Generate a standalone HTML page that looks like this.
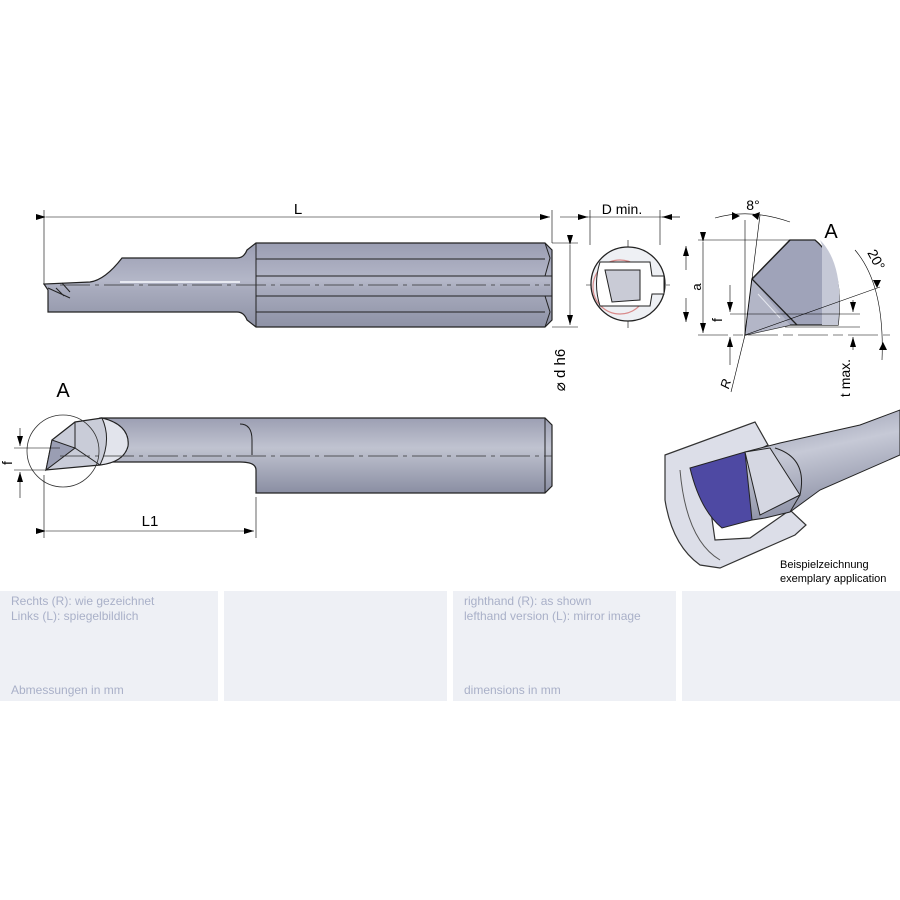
<!DOCTYPE html>
<html><head><meta charset="utf-8"><style>
html,body{margin:0;padding:0;background:#fff;}
svg{display:block;font-family:"Liberation Sans",sans-serif;}
</style></head><body>
<svg width="900" height="900" viewBox="0 0 900 900" xmlns="http://www.w3.org/2000/svg">
<defs>
<linearGradient id="g1" x1="0" y1="0" x2="0" y2="1">
<stop offset="0" stop-color="#9a9db2"/><stop offset="0.45" stop-color="#b4b7c8"/><stop offset="0.55" stop-color="#a8abbd"/><stop offset="1" stop-color="#8e92a6"/></linearGradient>
<linearGradient id="g2" x1="0" y1="0" x2="0" y2="1">
<stop offset="0" stop-color="#9c9fb3"/><stop offset="0.4" stop-color="#c0c3d0"/><stop offset="1" stop-color="#8a8ea3"/></linearGradient>
<linearGradient id="g3" x1="0" y1="0" x2="0.3" y2="1">
<stop offset="0" stop-color="#8f93a8"/><stop offset="0.45" stop-color="#c6c9d6"/><stop offset="1" stop-color="#8a8ea3"/></linearGradient>
<marker id="ar" markerWidth="10" markerHeight="6" refX="10" refY="3" orient="auto" markerUnits="userSpaceOnUse"><path d="M0,0 L10,3 L0,6z" fill="#000"/></marker>
</defs>

<!-- Top tool -->
<g stroke="#000" stroke-width="0.6" fill="none">
<line x1="44" y1="210" x2="44" y2="285"/><line x1="552" y1="210" x2="552" y2="243"/>
<line x1="46" y1="217" x2="550" y2="217" marker-start="url(#ar)" marker-end="url(#ar)"/>
<line x1="552" y1="243" x2="578" y2="243"/><line x1="552" y1="327" x2="578" y2="327"/>
<line x1="570" y1="245" x2="570" y2="325" marker-start="url(#ar)" marker-end="url(#ar)"/>
</g>
<text x="298" y="214" font-size="15" text-anchor="middle">L</text>
<path d="M48,312 L48,290 L44,284 L90,282 Q105,280 122,258 L237,258 Q244,258 247,250 L256,243 L545,243 L552,250 L552,320 L545,327 L256,327 L247,320 Q244,312 237,312 Z" fill="url(#g1)" stroke="#222" stroke-width="1.2"/>
<g stroke="#222" stroke-width="1" fill="none">
<line x1="256" y1="243" x2="256" y2="327"/>
<line x1="256" y1="259" x2="545" y2="259"/><line x1="256" y1="276" x2="552" y2="276"/>
<line x1="256" y1="296" x2="552" y2="296"/><line x1="256" y1="312" x2="545" y2="312"/>
<path d="M545,243 L550,258 L545,276 M545,296 L550,312 L545,327"/>
<path d="M48,288 L70,298 M56,288 L64,296 M62,283 L70,292"/>
</g>
<line x1="60" y1="285" x2="550" y2="285" stroke="#333" stroke-width="0.8" stroke-dasharray="30,5,4,5"/>
<line x1="120" y1="282" x2="240" y2="282" stroke="#e8eaf2" stroke-width="2"/>

<!-- End view -->
<g stroke="#000" stroke-width="0.6" fill="none">
<line x1="590" y1="210" x2="590" y2="245"/><line x1="660" y1="210" x2="660" y2="245"/>
<line x1="560" y1="217" x2="588" y2="217" marker-end="url(#ar)"/>
<line x1="680" y1="217" x2="662" y2="217" marker-end="url(#ar)"/>
<line x1="580" y1="217" x2="680" y2="217"/>
<line x1="686" y1="270" x2="686" y2="246" marker-end="url(#ar)"/>
<line x1="686" y1="298" x2="686" y2="322" marker-end="url(#ar)"/>
<line x1="586" y1="285" x2="670" y2="285" stroke-dasharray="8,3,2,3"/>
<line x1="628" y1="240" x2="628" y2="330" stroke-dasharray="8,3,2,3"/>
</g>
<text x="622" y="214" font-size="14" text-anchor="middle">D min.</text>
<text x="697" y="291" font-size="13" text-anchor="middle" transform="rotate(-90 697 287)">a</text>
<circle cx="628" cy="284" r="37" fill="#eef0f4" stroke="#222" stroke-width="1.3"/>
<circle cx="620" cy="287" r="27" fill="none" stroke="#d98a8a" stroke-width="1.2"/>
<path d="M600,262 L650,262 L652,276 L664,276 L664,294 L652,294 L650,306 L600,306 Q593,284 600,262Z" fill="#fff" stroke="#222" stroke-width="1"/>
<path d="M605,270 L640,270 L640,300 L612,302 Z" fill="#c9cbd6" stroke="#222" stroke-width="1"/>
<text x="565" y="370" font-size="15" transform="rotate(-90 565 370)" text-anchor="middle">⌀ d h6</text>

<!-- Detail A -->
<path d="M790,240 L815,240 Q845,265 838,325 L790,325 L745,335 L752,279 Z" fill="#9fa3b9" stroke="#222" stroke-width="1.3"/>
<path d="M820,240 Q845,265 838,325 L822,325 L822,245Z" fill="#c5c8d6"/>
<path d="M752,279 L745,335 L790,325 Z" fill="#b3b6c7"/>
<path d="M752,279 L797,325 M790,240 L752,279" stroke="#222" stroke-width="1.3" fill="none"/>
<line x1="758" y1="294" x2="780" y2="318" stroke="#e6e8f0" stroke-width="1"/>
<g stroke="#000" stroke-width="0.6" fill="none">
<line x1="745" y1="335" x2="880" y2="287"/>
<line x1="698" y1="240" x2="790" y2="240"/>
<line x1="698" y1="335" x2="890" y2="335" stroke-dasharray="30,5,10,5"/>
<line x1="730" y1="314" x2="860" y2="314"/>
<line x1="785" y1="327" x2="860" y2="327"/>
<line x1="703" y1="242" x2="703" y2="333" marker-start="url(#ar)" marker-end="url(#ar)"/>
<line x1="730" y1="285" x2="730" y2="312" marker-end="url(#ar)"/>
<line x1="730" y1="365" x2="730" y2="337" marker-end="url(#ar)"/>
<line x1="853" y1="300" x2="853" y2="312" marker-end="url(#ar)"/>
<line x1="853" y1="350" x2="853" y2="337" marker-end="url(#ar)"/>
<line x1="745" y1="335" x2="745" y2="220"/>
<line x1="745" y1="335" x2="760" y2="215"/>
<line x1="745" y1="335" x2="731" y2="392"/>
<path d="M715,218 Q750,208 790,222"/>
<path d="M855,250 Q885,285 882,360"/>
</g>
<path d="M740,216 L732,212 L732,220Z M752,215 L760,212 L758,220Z" fill="#000"/>
<path d="M877,288 L873,280 L881,280Z M883,342 L879,350 L887,350Z" fill="#000"/>
<text x="753" y="210" font-size="14" text-anchor="middle">8°</text>
<text x="831" y="238" font-size="20" text-anchor="middle">A</text>
<text x="872" y="262" font-size="14" transform="rotate(62 872 262)" text-anchor="middle">20°</text>
<text x="722" y="320" font-size="14" transform="rotate(-90 722 320)" text-anchor="middle">f</text>
<text x="730" y="385" font-size="13" font-style="italic" transform="rotate(-75 730 385)" text-anchor="middle">R</text>
<text x="850" y="378" font-size="14" transform="rotate(-90 850 378)" text-anchor="middle">t max.</text>

<!-- Bottom tool -->
<path d="M100,418 L545,418 L552,425 L552,486 L545,493 L256,493 L256,470 Q256,462 240,462 L100,462 Z" fill="url(#g2)" stroke="#222" stroke-width="1.2"/>
<path d="M545,418 L545,493" stroke="#222" stroke-width="1"/>
<path d="M240,424 Q252,424 252,440 L252,455" stroke="#222" fill="none"/>
<path d="M46,470 L52,440 L75,422 L102,418 Q130,425 128,446 Q124,462 100,465 L46,470Z" fill="#c9ccd8" stroke="#222" stroke-width="1.2"/>
<path d="M52,440 L46,470 L75,448 Z" fill="#9a9eb3" stroke="#222" stroke-width="1"/>
<path d="M75,422 L75,448 L100,465" stroke="#222" fill="none"/>
<path d="M102,418 Q130,425 128,446 Q124,462 100,465 Q112,440 102,418Z" fill="#e2e4ec" stroke="#222"/>
<line x1="60" y1="456" x2="552" y2="456" stroke="#333" stroke-width="0.8" stroke-dasharray="30,5,4,5"/>
<circle cx="63" cy="451" r="36" fill="none" stroke="#333" stroke-width="0.8"/>
<text x="63" y="397" font-size="20" text-anchor="middle">A</text>
<g stroke="#000" stroke-width="0.6" fill="none">
<line x1="14" y1="448" x2="60" y2="448"/><line x1="14" y1="470" x2="46" y2="470"/>
<line x1="20" y1="428" x2="20" y2="446" marker-end="url(#ar)"/>
<line x1="20" y1="498" x2="20" y2="472" marker-end="url(#ar)"/>
<line x1="44" y1="475" x2="44" y2="538"/><line x1="256" y1="497" x2="256" y2="538"/>
<line x1="46" y1="531" x2="254" y2="531" marker-start="url(#ar)" marker-end="url(#ar)"/>
</g>
<text x="12" y="463" font-size="14" transform="rotate(-90 12 463)" text-anchor="middle">f</text>
<text x="150" y="526" font-size="15" text-anchor="middle">L1</text>

<!-- Application view -->
<path d="M665,455 L755,422 L768,445 L748,455 L705,470 L715,540 L750,538 L790,510 L806,525 L795,535 L720,568 L700,565 Q672,545 665,500Z" fill="#dcdee8" stroke="#333" stroke-width="1.2"/>
<path d="M680,470 Q686,540 720,560" stroke="#555" fill="none"/>
<path d="M690,468 L745,452 L770,455 L752,520 L722,528 Q700,510 690,468Z" fill="#4e49a3" stroke="#222"/>
<path d="M745,452 L780,443 L860,425 L900,410 L900,455 L820,490 L790,512 L765,518 L752,520Z" fill="url(#g3)" stroke="#222"/>
<path d="M775,448 Q808,458 800,495 L790,512" stroke="#222" fill="none"/>
<path d="M745,452 L770,448 L800,495 L760,515Z" fill="#d5d7e2" stroke="#222"/>
<text x="780" y="568" font-size="11">Beispielzeichnung</text>
<text x="780" y="582" font-size="11">exemplary application</text>

<!-- Bottom panels -->
<rect x="0" y="591" width="218" height="110" fill="#eef0f5"/>
<rect x="224" y="591" width="223" height="110" fill="#eef0f5"/>
<rect x="453" y="591" width="223" height="110" fill="#eef0f5"/>
<rect x="682" y="591" width="218" height="110" fill="#eef0f5"/>
<g font-size="12" fill="#a9b0c8">
<text x="11" y="605">Rechts (R): wie gezeichnet</text>
<text x="11" y="620">Links (L): spiegelbildlich</text>
<text x="11" y="694">Abmessungen in mm</text>
<text x="464" y="605">righthand (R): as shown</text>
<text x="464" y="620">lefthand version (L): mirror image</text>
<text x="464" y="694">dimensions in mm</text>
</g>
</svg>
</body></html>
